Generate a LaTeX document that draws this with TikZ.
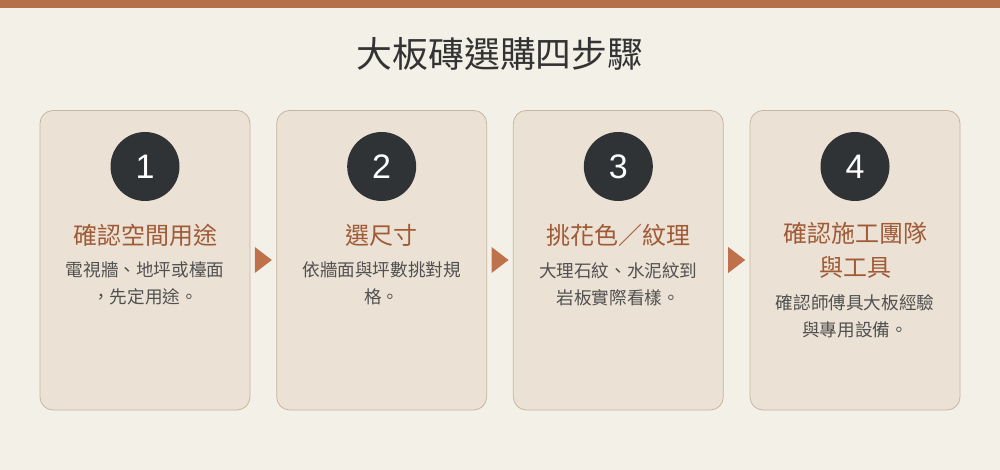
\documentclass[tikz,border=0pt]{standalone}
\usepackage{fontspec}
\newfontfamily\cjk{Noto Sans CJK TC}
\newfontfamily\numfont{Liberation Sans}
\definecolor{bg}{HTML}{F3F0E8}
\definecolor{topbar}{HTML}{B5704A}
\definecolor{cardfill}{HTML}{EBE2D5}
\definecolor{cardline}{HTML}{C8B59F}
\definecolor{circ}{HTML}{2F3336}
\definecolor{steptitle}{HTML}{A05A36}
\definecolor{desc}{HTML}{505050}
\definecolor{maintitle}{HTML}{333333}
\definecolor{arrowc}{HTML}{BE714A}
\tikzset{
  card/.style={draw=cardline, line width=0.8pt, fill=cardfill, rounded corners=13pt},
  numcirc/.style={circle, fill=circ, minimum size=69pt, inner sep=0pt, text=white, font=\numfont\fontsize{34}{34}\selectfont},
  stitle/.style={text=steptitle, align=center, inner sep=0pt, font=\cjk\fontsize{24}{33.5}\selectfont},
  sdesc/.style={text=desc, align=center, inner sep=0pt, font=\cjk\fontsize{17.6}{27}\selectfont},
  flowarrow/.style={fill=arrowc, draw=none},
}
\begin{document}
\begin{tikzpicture}[x=1pt,y=-1pt]
\useasboundingbox (0,0) rectangle (1000,470);
\fill[bg] (0,0) rectangle (1000,470);
\fill[topbar] (0,0) rectangle (1000,8.5);
\node[text=maintitle, inner sep=0pt, font=\cjk\fontsize{35.8}{35.8}\selectfont] (title) at (500,54) {大板磚選購四步驟};
% cards
\foreach \cx in {145, 381.67, 618.33, 855} {
  \path[card] (\cx-105,110.5) rectangle (\cx+105,410);
}
\node[numcirc] (n1) at (145,166.5) {1};
\node[numcirc] (n2) at (381.67,166.5) {2};
\node[numcirc] (n3) at (618.33,166.5) {3};
\node[numcirc] (n4) at (855,166.5) {4};
\node[stitle] (t1) at (145,235.5) {確認空間用途};
\node[stitle] (t2) at (381.67,235.5) {選尺寸};
\node[stitle] (t3) at (618.33,235.5) {挑花色／紋理};
\node[stitle, anchor=north] (t4) at (855,222.5) {確認施工團隊\\與工具};
\node[sdesc, anchor=north] (d1) at (145,262) {電視牆、地坪或檯面\\，先定用途。};
\node[sdesc, anchor=north] (d2) at (381.67,262) {依牆面與坪數挑對規\\格。};
\node[sdesc, anchor=north] (d3) at (618.33,262) {大理石紋、水泥紋到\\岩板實際看樣。};
\node[sdesc, anchor=north] (d4) at (855,294) {確認師傅具大板經驗\\與專用設備。};
% arrows
\foreach \ax in {263.33, 500, 736.67} {
  \fill[flowarrow] (\ax-8.5,247) -- (\ax+8.5,260) -- (\ax-8.5,273) -- cycle;
}
\end{tikzpicture}
\end{document}
